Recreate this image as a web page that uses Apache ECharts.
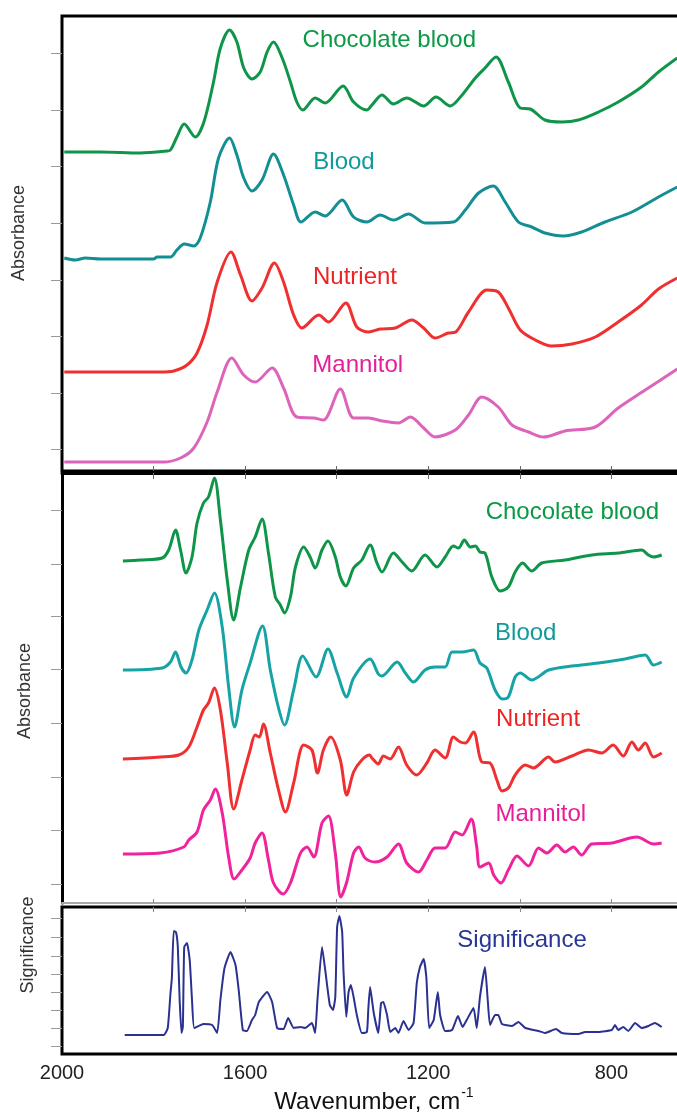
<!DOCTYPE html>
<html><head><meta charset="utf-8">
<script src="https://cdn.jsdelivr.net/npm/echarts@6/dist/echarts.min.js"></script>
<style>html,body{margin:0;padding:0;background:#fff}#c{width:677px;height:1114px}</style>
</head><body><div id="c"></div>
<script>
// ---------- data (wavenumber cm-1, plotted value) ----------
const topChocolate = [[1995,3.19],[1916,3.19],[1829,3.18],[1770,3.20],[1763,3.21],[1749,3.34],[1733,3.47],[1709,3.34],[1690,3.49],[1669,3.89],[1654,4.23],[1634,4.41],[1618,4.29],[1603,4.03],[1585,3.92],[1567,3.99],[1552,4.19],[1538,4.29],[1519,4.13],[1501,3.89],[1487,3.69],[1474,3.61],[1447,3.73],[1425,3.68],[1386,3.85],[1363,3.69],[1334,3.61],[1323,3.66],[1301,3.76],[1276,3.67],[1247,3.73],[1210,3.65],[1183,3.74],[1152,3.65],[1126,3.76],[1097,3.93],[1076,4.03],[1052,4.14],[1025,3.89],[999,3.63],[977,3.62],[945,3.51],[908,3.49],[872,3.51],[828,3.59],[785,3.69],[734,3.84],[697,3.99],[656,4.13]];
const topBlood = [[1995,2.13],[1971,2.11],[1949,2.13],[1916,2.12],[1800,2.12],[1792,2.14],[1763,2.14],[1749,2.21],[1733,2.27],[1712,2.25],[1698,2.33],[1676,2.69],[1658,3.13],[1634,3.33],[1618,3.16],[1603,2.93],[1585,2.80],[1563,2.91],[1538,3.17],[1516,2.96],[1494,2.66],[1478,2.49],[1447,2.59],[1425,2.55],[1388,2.71],[1363,2.54],[1334,2.49],[1305,2.56],[1276,2.51],[1243,2.57],[1207,2.48],[1145,2.49],[1119,2.61],[1090,2.78],[1058,2.85],[1032,2.69],[1003,2.49],[974,2.44],[945,2.38],[905,2.35],[865,2.39],[814,2.49],[755,2.59],[697,2.74],[656,2.84]];
const topNutrient = [[1995,0.99],[1785,0.99],[1756,1.00],[1727,1.06],[1705,1.18],[1683,1.46],[1661,1.89],[1631,2.19],[1610,1.96],[1585,1.70],[1563,1.83],[1536,2.08],[1516,1.89],[1494,1.56],[1476,1.43],[1439,1.56],[1418,1.49],[1380,1.68],[1356,1.44],[1330,1.39],[1305,1.42],[1272,1.43],[1236,1.51],[1210,1.43],[1185,1.33],[1156,1.38],[1140,1.39],[1112,1.59],[1072,1.81],[1047,1.79],[1025,1.63],[999,1.41],[966,1.31],[930,1.25],[886,1.27],[835,1.34],[785,1.49],[734,1.66],[697,1.82],[656,1.93]];
const topMannitol = [[1995,0.09],[1779,0.09],[1741,0.13],[1712,0.23],[1683,0.49],[1661,0.79],[1629,1.13],[1603,0.96],[1578,0.89],[1541,1.03],[1516,0.83],[1487,0.54],[1450,0.53],[1429,0.51],[1392,0.82],[1363,0.53],[1330,0.53],[1301,0.50],[1265,0.48],[1239,0.54],[1210,0.43],[1185,0.34],[1141,0.41],[1112,0.56],[1083,0.74],[1047,0.64],[1017,0.46],[981,0.39],[948,0.34],[901,0.40],[835,0.44],[785,0.63],[726,0.81],[656,1.02]];

const midChocolate = [[1867,3.42],[1829,3.43],[1781,3.45],[1767,3.53],[1752,3.73],[1741,3.53],[1729,3.30],[1716,3.46],[1705,3.80],[1691,4.00],[1680,4.06],[1667,4.25],[1654,3.83],[1639,3.23],[1625,2.83],[1610,3.16],[1592,3.53],[1578,3.66],[1563,3.84],[1549,3.50],[1534,3.06],[1523,2.98],[1514,2.90],[1501,3.06],[1490,3.36],[1472,3.56],[1458,3.46],[1447,3.35],[1432,3.53],[1419,3.62],[1403,3.46],[1392,3.26],[1380,3.17],[1363,3.35],[1345,3.43],[1327,3.58],[1312,3.40],[1301,3.31],[1276,3.50],[1257,3.41],[1236,3.32],[1207,3.48],[1181,3.36],[1163,3.46],[1145,3.57],[1134,3.55],[1121,3.63],[1108,3.56],[1097,3.57],[1087,3.51],[1076,3.50],[1061,3.26],[1043,3.12],[1025,3.16],[1010,3.31],[994,3.40],[974,3.32],[952,3.40],[901,3.43],[843,3.48],[785,3.50],[734,3.53],[719,3.48],[708,3.46],[690,3.48]];
const midBlood = [[1867,2.33],[1781,2.35],[1763,2.41],[1752,2.51],[1740,2.36],[1729,2.30],[1716,2.43],[1701,2.73],[1683,2.93],[1667,3.10],[1650,2.76],[1636,2.16],[1623,1.76],[1607,2.13],[1589,2.40],[1562,2.77],[1545,2.33],[1527,1.95],[1514,1.78],[1494,2.13],[1474,2.47],[1445,2.26],[1419,2.54],[1399,2.30],[1378,2.06],[1363,2.25],[1327,2.44],[1309,2.29],[1301,2.27],[1268,2.41],[1250,2.30],[1232,2.21],[1207,2.33],[1185,2.36],[1163,2.36],[1148,2.51],[1126,2.51],[1101,2.53],[1087,2.40],[1072,2.35],[1054,2.13],[1038,2.04],[1025,2.06],[1010,2.26],[999,2.30],[974,2.23],[937,2.33],[886,2.37],[828,2.40],[770,2.44],[726,2.48],[708,2.38],[690,2.41]];
const midNutrient = [[1867,1.44],[1785,1.46],[1745,1.48],[1723,1.56],[1705,1.76],[1691,1.93],[1680,2.00],[1667,2.15],[1654,1.93],[1639,1.40],[1625,0.94],[1607,1.23],[1589,1.53],[1578,1.68],[1569,1.66],[1560,1.79],[1545,1.50],[1527,1.13],[1512,0.91],[1494,1.20],[1472,1.58],[1454,1.53],[1442,1.30],[1429,1.53],[1413,1.66],[1392,1.43],[1378,1.08],[1363,1.31],[1345,1.43],[1328,1.48],[1323,1.45],[1309,1.39],[1298,1.47],[1283,1.44],[1265,1.56],[1247,1.38],[1225,1.28],[1203,1.40],[1185,1.53],[1163,1.45],[1145,1.66],[1130,1.61],[1119,1.60],[1101,1.71],[1083,1.41],[1065,1.40],[1050,1.23],[1039,1.12],[1025,1.15],[1010,1.28],[988,1.38],[970,1.35],[937,1.46],[923,1.41],[886,1.47],[850,1.53],[821,1.50],[796,1.58],[774,1.47],[755,1.61],[741,1.53],[726,1.60],[708,1.46],[690,1.50]];
const midMannitol = [[1867,0.49],[1785,0.50],[1734,0.56],[1723,0.63],[1705,0.71],[1691,0.93],[1676,1.03],[1665,1.14],[1650,0.90],[1636,0.46],[1624,0.24],[1607,0.33],[1589,0.45],[1578,0.60],[1563,0.70],[1549,0.43],[1538,0.20],[1517,0.09],[1501,0.20],[1479,0.50],[1465,0.56],[1450,0.46],[1432,0.80],[1418,0.87],[1403,0.50],[1391,0.06],[1378,0.21],[1363,0.50],[1352,0.56],[1338,0.45],[1316,0.41],[1290,0.46],[1265,0.59],[1247,0.40],[1221,0.31],[1203,0.43],[1185,0.55],[1163,0.55],[1141,0.71],[1126,0.68],[1106,0.84],[1094,0.56],[1087,0.36],[1068,0.40],[1057,0.28],[1041,0.20],[1025,0.33],[1006,0.47],[981,0.37],[959,0.55],[941,0.50],[919,0.58],[901,0.51],[883,0.56],[865,0.48],[843,0.59],[799,0.60],[744,0.66],[708,0.59],[690,0.60]];

const significance = [[1863,0.19],[1778,0.19],[1769,0.26],[1763,0.61],[1760,0.76],[1756,1.23],[1751,1.22],[1747,1.07],[1743,0.54],[1739,0.21],[1736,0.27],[1733,1.07],[1727,1.11],[1721,0.94],[1716,0.54],[1711,0.26],[1691,0.30],[1672,0.29],[1661,0.21],[1654,0.54],[1645,0.86],[1632,1.02],[1621,0.89],[1614,0.64],[1605,0.24],[1596,0.23],[1585,0.34],[1578,0.39],[1570,0.52],[1552,0.62],[1541,0.52],[1530,0.26],[1516,0.25],[1506,0.36],[1494,0.26],[1479,0.27],[1469,0.26],[1454,0.31],[1447,0.21],[1442,0.54],[1432,1.07],[1425,0.84],[1415,0.49],[1408,0.44],[1403,0.57],[1399,1.27],[1394,1.38],[1388,1.22],[1385,0.82],[1379,0.37],[1374,0.62],[1369,0.69],[1363,0.57],[1356,0.39],[1345,0.21],[1334,0.22],[1331,0.44],[1327,0.67],[1319,0.41],[1309,0.21],[1303,0.51],[1298,0.52],[1290,0.39],[1283,0.22],[1272,0.26],[1265,0.21],[1254,0.33],[1243,0.24],[1232,0.31],[1225,0.71],[1218,0.87],[1210,0.95],[1204,0.76],[1198,0.26],[1188,0.34],[1179,0.62],[1174,0.39],[1163,0.23],[1148,0.24],[1135,0.38],[1125,0.27],[1116,0.34],[1101,0.46],[1094,0.26],[1087,0.57],[1076,0.87],[1070,0.54],[1065,0.29],[1054,0.39],[1047,0.39],[1039,0.30],[1017,0.28],[1003,0.32],[988,0.26],[959,0.23],[945,0.21],[921,0.25],[908,0.21],[872,0.20],[857,0.22],[828,0.22],[799,0.24],[792,0.29],[785,0.24],[774,0.27],[763,0.23],[748,0.31],[734,0.26],[719,0.28],[705,0.31],[690,0.27]];

// ---------- ticks ----------
const xTickValues = [1800, 1600, 1400, 1200, 1000, 800];
const xLabelValues = [2000, 1600, 1200, 800];
const topYTicks = [0.22, 0.78, 1.35, 1.91, 2.48, 3.05, 3.61, 4.18];
const midYTicks = [0.19, 0.73, 1.26, 1.80, 2.34, 2.87, 3.39, 3.93];
const sigYTicks = [0.08, 0.26, 0.44, 0.62, 0.80, 0.98, 1.17, 1.36];

// ---------- curve label anchors (data coords) ----------
const labelConfig = [
  {text:'Chocolate blood', panel:0, wn:1285, v:4.31, color:'#0a9a45'},
  {text:'Blood',           panel:0, wn:1384, v:3.09, color:'#119a9c'},
  {text:'Nutrient',        panel:0, wn:1360, v:1.94, color:'#ee2424'},
  {text:'Mannitol',        panel:0, wn:1354, v:1.06, color:'#e61e98'},
  {text:'Chocolate blood', panel:1, wn:885,  v:3.91, color:'#0a9a45'},
  {text:'Blood',           panel:1, wn:987,  v:2.70, color:'#119a9c'},
  {text:'Nutrient',        panel:1, wn:960,  v:1.84, color:'#ee2424'},
  {text:'Mannitol',        panel:1, wn:954,  v:0.89, color:'#e61e98'},
  {text:'Significance',    panel:2, wn:995,  v:1.14, color:'#283696'}
];

const FONT = '"Liberation Sans", Arial, Helvetica, sans-serif';
const chart = echarts.init(document.getElementById('c'), null, {renderer:'canvas'});

const baseX = {type:'value', inverse:true, min:650, max:2000,
  splitLine:{show:false}, axisLabel:{show:false}, axisLine:{show:false}, axisTick:{show:false}};
function xAxisDef(extra){ return Object.assign({}, baseX, extra); }
const tickInside = (len, color) => ({show:true, inside:true, length:len, customValues:xTickValues, lineStyle:{color:color, width:1}});

function yAxisDef(grid, max, ticks, line){
  return {type:'value', gridIndex:grid, min:0, max:max, splitLine:{show:false},
    axisLabel:{show:false},
    axisLine: line ? {show:true, onZero:false, lineStyle:{color:'#000', width:3}} : {show:false},
    axisTick:{show:true, inside:false, length:11, customValues:ticks, lineStyle:{color:'#9a9a9a', width:1}}};
}

function lineSeries(data, xi, yi, color, width){
  return {type:'line', xAxisIndex:xi, yAxisIndex:yi, data:data, symbol:'none', showSymbol:false,
    smooth:0.3, silent:true, lineStyle:{color:color, width:width}, z:3};
}

const panelAxes = [[0,0],[1,1],[3,2]];
const labelSeries = [0,1,2].map(p => ({
  type:'scatter', xAxisIndex:panelAxes[p][0], yAxisIndex:panelAxes[p][1], symbolSize:1, silent:true, z:5,
  itemStyle:{color:'rgba(0,0,0,0)', opacity:1},
  data: labelConfig.filter(l => l.panel === p).map(l => ({
    value:[l.wn, l.v], name:l.text,
    label:{show:true, position:'inside', formatter:l.text, color:l.color, opacity:1, fontSize:24, fontFamily:FONT}
  }))
}));

const option = {
  animation:false,
  backgroundColor:'#fff',
  grid:[
    {left:62, right:-3, top:16, height:455, show:true, borderColor:'#000', borderWidth:3, outerBoundsMode:'none', containLabel:false},
    {left:62, right:-3, top:473, height:430, show:false, outerBoundsMode:'none', containLabel:false},
    {left:62, right:-3, top:907, height:147, show:true, borderColor:'#000', borderWidth:3, outerBoundsMode:'none', containLabel:false}
  ],
  xAxis:[
    xAxisDef({gridIndex:0, position:'bottom', axisTick:tickInside(5,'#666')}),
    xAxisDef({gridIndex:1, position:'bottom', axisLine:{show:true, onZero:false, lineStyle:{color:'#a8a8a8', width:2}}, axisTick:tickInside(4,'#888')}),
    xAxisDef({gridIndex:1, position:'top', axisLine:{show:true, onZero:false, lineStyle:{color:'#000', width:3}}, axisTick:tickInside(6,'#666')}),
    xAxisDef({gridIndex:2, position:'bottom',
      axisLabel:{show:true, customValues:xLabelValues, margin:9, fontSize:20, color:'#222', fontFamily:FONT,
        formatter:function(v){ return String(Math.round(v)); }}}),
    xAxisDef({gridIndex:2, position:'top', axisTick:tickInside(5,'#888')})
  ],
  yAxis:[
    yAxisDef(0, 4.55, topYTicks, false),
    yAxisDef(1, 4.30, midYTicks, true),
    yAxisDef(2, 1.47, sigYTicks, false)
  ],
  series:[
    lineSeries(topChocolate, 0, 0, '#0e9549', 3),
    lineSeries(topBlood,     0, 0, '#138f94', 3),
    lineSeries(topNutrient,  0, 0, '#f03030', 3),
    lineSeries(topMannitol,  0, 0, '#dc64bb', 3),
    lineSeries(midChocolate, 1, 1, '#0e9549', 3),
    lineSeries(midBlood,     1, 1, '#17a3a6', 3),
    lineSeries(midNutrient,  1, 1, '#f03030', 3),
    lineSeries(midMannitol,  1, 1, '#f0229c', 3),
    Object.assign(lineSeries(significance, 3, 2, '#2a3190', 2), {smooth:0.15})
  ].concat(labelSeries),
  graphic:[
    {type:'text', x:19, y:233, rotation:Math.PI/2, silent:true,
      style:{text:'Absorbance', align:'center', verticalAlign:'middle', fontSize:18, fontFamily:FONT, fill:'#333'}},
    {type:'text', x:25, y:691, rotation:Math.PI/2, silent:true,
      style:{text:'Absorbance', align:'center', verticalAlign:'middle', fontSize:18, fontFamily:FONT, fill:'#333'}},
    {type:'text', x:28, y:945, rotation:Math.PI/2, silent:true,
      style:{text:'Significance', align:'center', verticalAlign:'middle', fontSize:18, fontFamily:FONT, fill:'#333'}},
    {type:'text', x:374, y:1100, silent:true,
      style:{text:'{a|Wavenumber, cm}{b|-1}', align:'center', verticalAlign:'middle', fontFamily:FONT, fill:'#111',
        rich:{a:{fontSize:24, fontFamily:FONT, color:'#111', lineHeight:28, verticalAlign:'bottom'},
              b:{fontSize:14, fontFamily:FONT, color:'#111', lineHeight:28, verticalAlign:'top', padding:[0,0,0,1]}}}}
  ]
};
chart.setOption(option);
</script></body></html>
